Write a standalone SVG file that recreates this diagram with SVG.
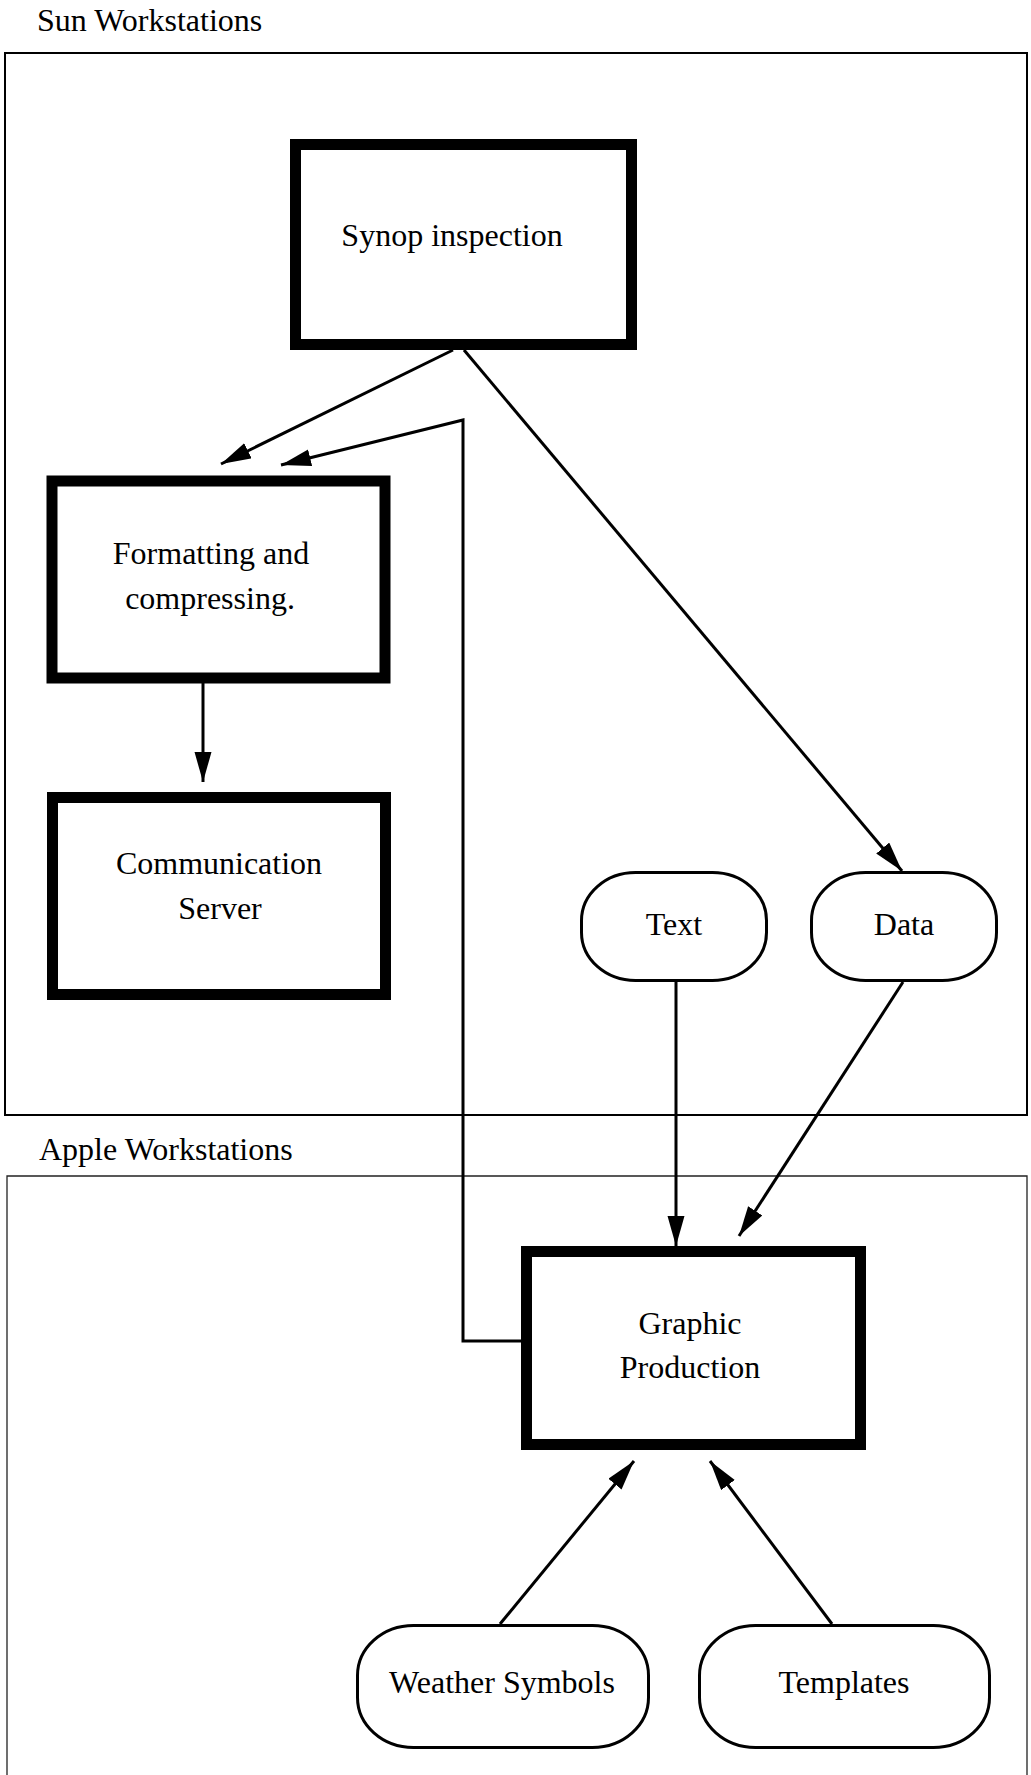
<svg xmlns="http://www.w3.org/2000/svg" width="1031" height="1775" viewBox="0 0 1031 1775">
  <defs>
    <style>
      text { font-family: "Liberation Serif", "Times New Roman", serif; font-size: 32px; fill: #000; }
      .mid { text-anchor: middle; }
      .box { fill: #fff; stroke: #000; stroke-width: 11; }
      .pill { fill: #fff; stroke: #000; stroke-width: 3; }
      .frame { fill: none; stroke: #000; stroke-width: 2; }
      .frame2 { fill: none; stroke: #222; stroke-width: 1.3; }
      .conn { fill: none; stroke: #000; stroke-width: 3; }
    </style>
    <marker id="arrow" markerUnits="userSpaceOnUse" markerWidth="32" markerHeight="18" refX="30" refY="8.5" orient="auto">
      <path d="M0,0 L30,8.5 L0,17 z" fill="#000"/>
    </marker>
  </defs>

  <rect width="1031" height="1775" fill="#fff"/>

  <!-- workstation groupings -->
  <g id="sun-workstations">
    <text x="37" y="31">Sun Workstations</text>
    <rect class="frame" x="5" y="53" width="1022" height="1062"/>
  </g>
  <g id="apple-workstations">
    <text x="39" y="1160">Apple Workstations</text>
    <path class="frame2" d="M7,1780 L7,1176 L1027,1176 L1027,1780"/>
  </g>

  <!-- connectors -->
  <g id="connectors">
    <line class="conn" x1="453" y1="350" x2="221" y2="464" marker-end="url(#arrow)"/>
    <polyline class="conn" points="521,1341 463,1341 463,420 281,465" marker-end="url(#arrow)"/>
    <line class="conn" x1="464" y1="350" x2="902" y2="871" marker-end="url(#arrow)"/>
    <line class="conn" x1="203" y1="683" x2="203" y2="782" marker-end="url(#arrow)"/>
    <line class="conn" x1="676" y1="981" x2="676" y2="1246" marker-end="url(#arrow)"/>
    <line class="conn" x1="903" y1="982" x2="739" y2="1236" marker-end="url(#arrow)"/>
    <line class="conn" x1="500" y1="1624" x2="634" y2="1461" marker-end="url(#arrow)"/>
    <line class="conn" x1="832" y1="1624" x2="710" y2="1461" marker-end="url(#arrow)"/>
  </g>

  <!-- nodes -->
  <g id="synop-inspection">
    <rect class="box" x="295.5" y="144.5" width="336" height="200"/>
    <text class="mid" x="452" y="246">Synop inspection</text>
  </g>
  <g id="formatting">
    <rect class="box" x="52" y="481" width="333" height="197"/>
    <text class="mid" x="211" y="564">Formatting and</text>
    <text class="mid" x="210" y="609">compressing.</text>
  </g>
  <g id="communication-server">
    <rect class="box" x="52.5" y="797.5" width="333" height="197"/>
    <text class="mid" x="219" y="874">Communication</text>
    <text class="mid" x="220" y="919">Server</text>
  </g>
  <g id="text-node">
    <rect class="pill" x="581.5" y="872.5" width="185" height="108" rx="54" ry="48"/>
    <text class="mid" x="674" y="935">Text</text>
  </g>
  <g id="data-node">
    <rect class="pill" x="811.5" y="872.5" width="185" height="108" rx="54" ry="48"/>
    <text class="mid" x="904" y="935">Data</text>
  </g>
  <g id="graphic-production">
    <rect class="box" x="526.5" y="1251.5" width="334" height="193"/>
    <text class="mid" x="690" y="1334">Graphic</text>
    <text class="mid" x="690" y="1378">Production</text>
  </g>
  <g id="weather-symbols">
    <rect class="pill" x="357.5" y="1625.5" width="291" height="122" rx="56" ry="50"/>
    <text class="mid" x="502" y="1693">Weather Symbols</text>
  </g>
  <g id="templates">
    <rect class="pill" x="699.5" y="1625.5" width="290" height="122" rx="56" ry="50"/>
    <text class="mid" x="844" y="1693">Templates</text>
  </g>
</svg>
